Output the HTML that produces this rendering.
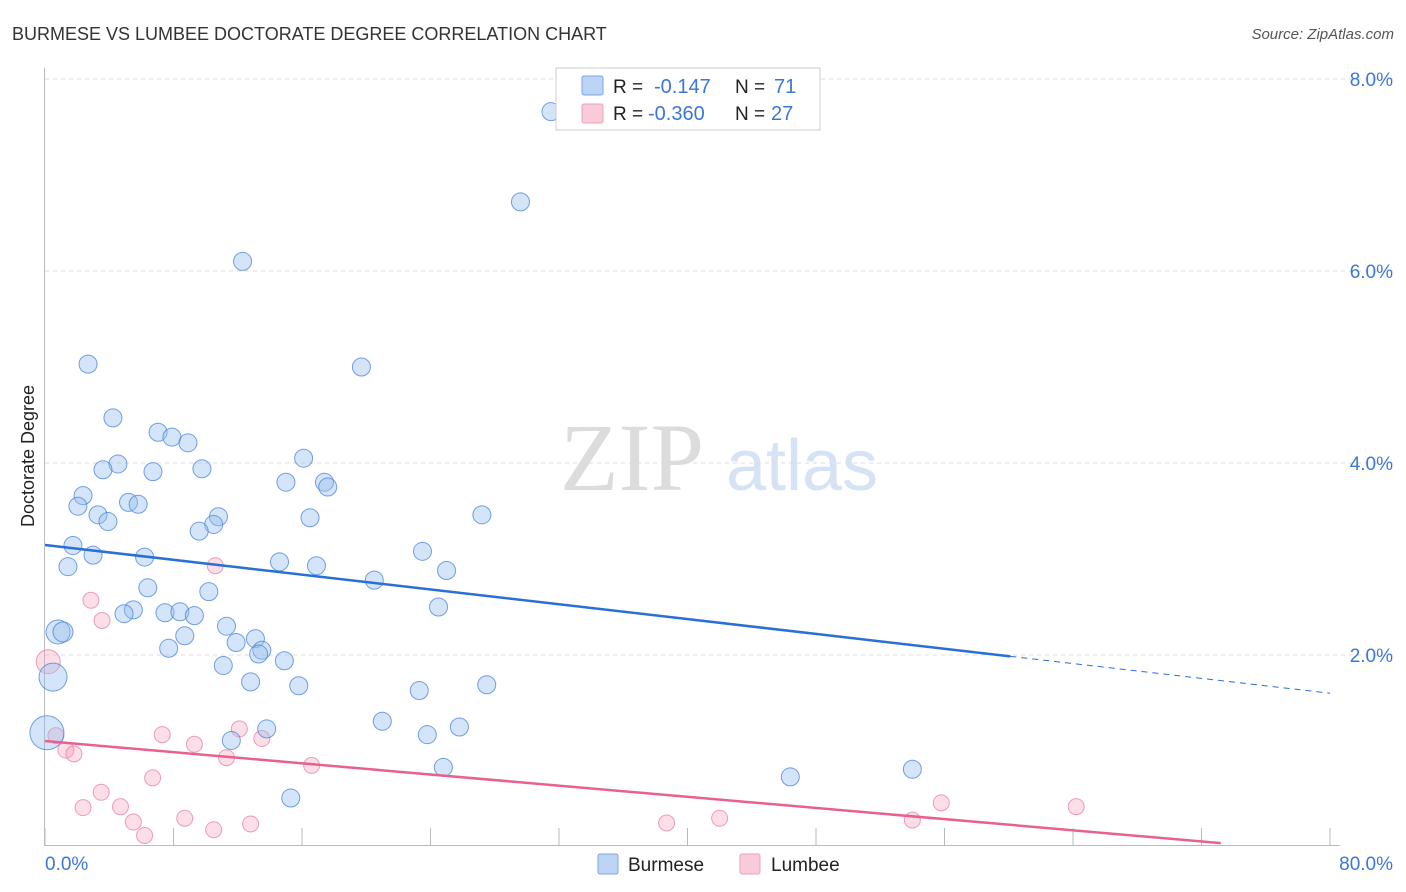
<!DOCTYPE html>
<html><head><meta charset="utf-8"><style>
body{margin:0;background:#fff;font-family:"Liberation Sans",sans-serif}
svg{display:block}
</style></head><body>
<svg id="chart" width="1406" height="892">
<text x="12" y="40" font-size="18" fill="#333">BURMESE VS LUMBEE DOCTORATE DEGREE CORRELATION CHART</text>
<text x="1394" y="39" font-size="15" fill="#555" font-style="italic" text-anchor="end">Source: ZipAtlas.com</text>
<g>
<text x="632" y="490" font-size="96" font-family="Liberation Serif,serif" fill="#dcdcdc" text-anchor="middle">ZIP</text>
<text x="802" y="490" font-size="72" fill="#d5e3f5" text-anchor="middle">atlas</text>
</g>
<g id="grid"></g>
<g id="axes"></g>
<g id="marks"></g>
<text transform="translate(34,456) rotate(-90)" font-size="18" fill="#222" text-anchor="middle">Doctorate Degree</text>
<g>
<rect x="556" y="68" width="264" height="62" fill="#fff" stroke="#ccc"/>
<rect x="582" y="76" width="21" height="19" fill="#bcd5f5" stroke="#7aa7e8" rx="2"/>
<rect x="582" y="104" width="21" height="19" fill="#f9cbd8" stroke="#ee9fb7" rx="2"/>
<text x="613" y="93" font-size="19" fill="#222">R =</text>
<text x="654" y="93" font-size="20" fill="#3b78d6">-0.147</text>
<text x="735" y="93" font-size="19" fill="#222">N =</text>
<text x="774" y="93" font-size="20" fill="#3b78d6">71</text>
<text x="613" y="120" font-size="19" fill="#222">R =</text>
<text x="648" y="120" font-size="20" fill="#3b78d6">-0.360</text>
<text x="735" y="120" font-size="19" fill="#222">N =</text>
<text x="771" y="120" font-size="20" fill="#3b78d6">27</text>
</g>
<g>
<rect x="598" y="854" width="20" height="20" fill="#bcd5f5" stroke="#7aa7e8" rx="2"/>
<text x="628" y="871" font-size="19" fill="#222">Burmese</text>
<rect x="740" y="854" width="20" height="20" fill="#f9cbd8" stroke="#ee9fb7" rx="2"/>
<text x="771" y="871" font-size="19" fill="#222">Lumbee</text>
</g>
</svg>
<script>
const blueX=[31.5,29.6,12.3,2.68,19.7,4.23,7.04,7.9,8.9,4.54,3.61,6.72,9.77,16.1,15.0,17.4,17.6,2.37,5.2,5.8,2.05,3.3,3.92,10.8,10.5,16.5,27.2,9.6,1.74,2.99,6.2,23.5,14.6,16.9,1.43,25.0,20.5,6.4,10.2,5.5,4.92,7.47,8.4,9.3,24.5,11.3,8.7,0.81,1.12,13.1,11.9,7.7,13.5,13.3,14.9,11.1,0.5,12.8,15.8,23.3,27.5,21.0,13.8,25.8,23.8,11.6,0.12,24.8,46.4,54.0,15.3];
const blueY=[7.66,6.72,6.10,5.03,5.00,4.47,4.32,4.27,4.21,3.99,3.93,3.91,3.94,4.05,3.80,3.80,3.75,3.66,3.59,3.57,3.55,3.46,3.39,3.44,3.36,3.43,3.46,3.29,3.14,3.04,3.02,3.08,2.97,2.93,2.92,2.88,2.78,2.70,2.66,2.47,2.43,2.44,2.45,2.41,2.50,2.30,2.20,2.24,2.24,2.17,2.13,2.07,2.05,2.01,1.94,1.89,1.77,1.72,1.68,1.63,1.69,1.31,1.23,1.25,1.17,1.11,1.19,0.83,0.73,0.81,0.51];
const blueR=[9,9,9,9,9,9,9,9,9,9,9,9,9,9,9,9,9,9,9,9,9,9,9,9,9,9,9,9,9,9,9,9,9,9,9,9,9,9,9,9,9,9,9,9,9,9,9,12,10,9,9,9,9,9,9,9,14,9,9,9,9,9,9,9,9,9,17,9,9,9,9];
const pinkX=[0.2,2.86,3.55,10.6,0.68,1.3,1.8,7.3,9.3,12.1,13.5,11.3,16.6,6.7,3.5,4.7,2.37,5.5,6.2,8.7,10.5,12.8,38.7,42.0,54.0,55.8,64.2];
const pinkY=[1.93,2.57,2.36,2.93,1.16,1.01,0.97,1.17,1.07,1.23,1.13,0.93,0.85,0.72,0.57,0.42,0.41,0.26,0.12,0.30,0.18,0.24,0.25,0.30,0.28,0.46,0.42];
const pinkR=[12,8,8,8,8,8,8,8,8,8,8,8,8,8,8,8,8,8,8,8,8,8,8,8,8,8,8];
const blueTrend=[3.146,-0.0193]; // intercept, slope
const blueSolidEnd=60.1;
const pinkTrend=[1.104,-0.01453];
const pinkEnd=73.2;
const yTicks=[2,4,6,8];
const xTickVals=[0,8,16,24,32,40,48,56,64,72,80];

const NS="http://www.w3.org/2000/svg";
const sx=v=>45+v*(1285/80);
const sy=v=>847-v*96;
function mk(tag,attrs,parent){const e=document.createElementNS(NS,tag);for(const k in attrs)e.setAttribute(k,attrs[k]);parent.appendChild(e);return e;}
const grid=document.getElementById('grid'),axes=document.getElementById('axes'),marks=document.getElementById('marks');
yTicks.forEach(t=>{
 const l=mk('line',{x1:45,x2:1395,y1:sy(t),y2:sy(t),stroke:'#ddd','stroke-dasharray':'4,4'},grid);
 
 
 const tx=mk('text',{x:1393,y:sy(t)+7,'font-size':19,fill:'#3b78d6','text-anchor':'end'},axes);
 tx.textContent=t.toFixed(1)+'%';
 
 
});
let a=mk('line',{x1:44.5,x2:44.5,y1:68,y2:845,stroke:'#bbb'},axes);


a=mk('line',{x1:44,x2:1340,y1:845.5,y2:845.5,stroke:'#bbb'},axes);


xTickVals.forEach(t=>{
 const l=mk('line',{x1:sx(t),x2:sx(t),y1:828,y2:845,stroke:'#bbb'},axes);
 
 
});
let t0=mk('text',{x:45,y:870,'font-size':19,fill:'#3b78d6'},axes);t0.textContent='0.0%';


let t1=mk('text',{x:1393,y:870,'font-size':19,fill:'#3b78d6','text-anchor':'end'},axes);t1.textContent='80.0%';



pinkX.forEach((x,i)=>{
 const c=mk('circle',{cx:sx(x),cy:sy(pinkY[i]),r:pinkR[i],fill:'rgba(244,160,185,0.35)',stroke:'rgba(232,120,155,0.7)','stroke-width':1},marks);
 
 
});
blueX.forEach((x,i)=>{
 const c=mk('circle',{cx:sx(x),cy:sy(blueY[i]),r:blueR[i],fill:'rgba(150,190,240,0.4)',stroke:'rgba(70,130,220,0.75)','stroke-width':1},marks);
 
 
});
const by=x=>blueTrend[0]+blueTrend[1]*x, py=x=>pinkTrend[0]+pinkTrend[1]*x;
let l=mk('line',{x1:sx(0),y1:sy(by(0)),x2:sx(blueSolidEnd),y2:sy(by(blueSolidEnd)),stroke:'#2a6fd6','stroke-width':2.5},marks);


l=mk('line',{x1:sx(blueSolidEnd),y1:sy(by(blueSolidEnd)),x2:sx(80),y2:sy(by(80)),stroke:'#2a6fd6','stroke-width':1,'stroke-dasharray':'6,5'},marks);


l=mk('line',{x1:sx(0),y1:sy(py(0)),x2:sx(pinkEnd),y2:sy(py(pinkEnd)),stroke:'#e8618c','stroke-width':2.5},marks);


</script>
</body></html>
